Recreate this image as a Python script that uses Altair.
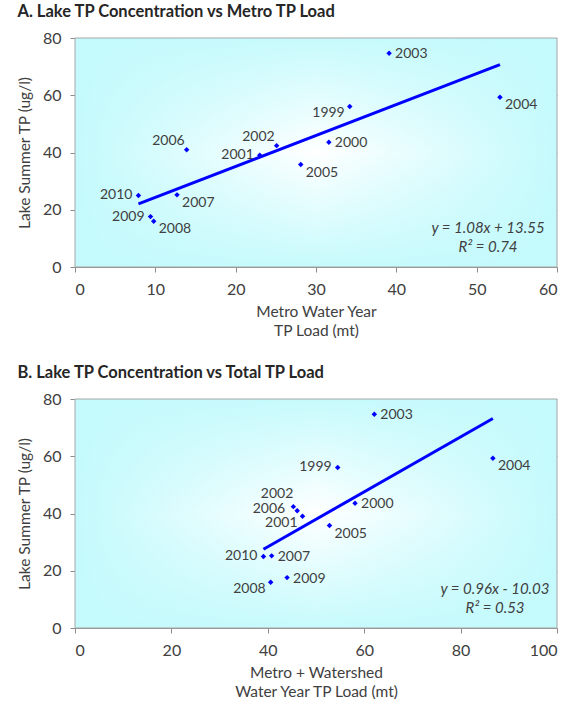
import altair as alt
import pandas as pd

# ---------------- data ----------------
years = [1999, 2000, 2001, 2002, 2003, 2004, 2005, 2006, 2007, 2008, 2009, 2010]
lake_tp = [56.1, 43.6, 39.0, 42.4, 74.7, 59.3, 35.8, 41.0, 25.2, 16.0, 17.6, 25.0]
metro_load = [34.2, 31.6, 23.0, 25.1, 39.1, 52.9, 28.1, 13.9, 12.7, 9.8, 9.4, 7.9]
total_load = [54.5, 58.1, 47.2, 45.3, 62.1, 86.7, 52.8, 46.1, 40.8, 40.6, 44.0, 39.1]

fit_a = {"slope": 1.08, "intercept": 13.55, "r2": 0.74}
fit_b = {"slope": 0.96, "intercept": -10.03, "r2": 0.53}

x_ticks_a = [0, 10, 20, 30, 40, 50, 60]
x_ticks_b = [0, 20, 40, 60, 80, 100]
y_ticks = [0, 20, 40, 60, 80]

title_a = "A.  Lake TP Concentration vs Metro TP Load"
title_b = "B.  Lake TP Concentration vs Total TP Load"
xtitle_a = ["Metro Water Year", "TP Load (mt)"]
xtitle_b = ["Metro + Watershed", "Water Year TP Load (mt)"]
ytitle = "Lake Summer TP (ug/l)"

# label placement (style) per year
place_a = {1999: "bl", 2000: "r", 2001: "l", 2002: "al", 2003: "r", 2004: "br",
           2005: "br", 2006: "al", 2007: "br", 2008: "br", 2009: "l", 2010: "l"}
place_b = {1999: "l", 2000: "r", 2001: "bl", 2002: "au", 2003: "r", 2004: "br",
           2005: "br", 2006: "ll", 2007: "r", 2008: "bl", 2009: "r", 2010: "l"}
offsets = {
    "r": ("left", 6, 1),
    "l": ("right", -6, 0),
    "br": ("left", 5, 8),
    "bl": ("right", -5, 7),
    "al": ("right", -2, -9),
    "au": ("right", 0, -13),
    "ll": ("right", -12, -2),
}

W, H = 482, 229
FONT = "Lato"
TXT = "#404040"
BLUE = "#0000ff"
CYAN = "#c4fafc"
GRAYLINE = "#8c8c8c"


def eq_text(fit):
    sign = "+" if fit["intercept"] >= 0 else "-"
    return [f"y = {fit['slope']:.2f}x {sign} {abs(fit['intercept']):.2f}",
            f"R² = {fit['r2']:.2f}"]


def panel(xvals, xmax, xticks, fit, place, title, xtitle, eq_x):
    df = pd.DataFrame({"year": years, "x": xvals, "y": lake_tp})
    xmin_d, xmax_d = min(xvals), max(xvals)
    tdf = pd.DataFrame({"x": [xmin_d, xmax_d],
                        "y": [fit["slope"] * xmin_d + fit["intercept"],
                              fit["slope"] * xmax_d + fit["intercept"]]})

    xs = alt.Scale(domain=[0, xmax], nice=False, zero=True)
    ys = alt.Scale(domain=[0, 80], nice=False)
    xax = alt.Axis(values=xticks, title=xtitle, grid=False, format="d")
    yax = alt.Axis(values=y_ticks, title=ytitle, grid=True, format="d")

    one = alt.Data(values=[{"a": 1}])
    bg_h = alt.Chart(one).mark_rect(
        fill=alt.Gradient(gradient="linear", x1=0, y1=0, x2=1, y2=0,
                          stops=[alt.GradientStop(color=CYAN, offset=0),
                                 alt.GradientStop(color="#ffffff", offset=0.5),
                                 alt.GradientStop(color=CYAN, offset=1)])
    ).encode(x=alt.value(0), x2=alt.value(W), y=alt.value(0), y2=alt.value(H))
    bg_v = alt.Chart(one).mark_rect(
        fill=alt.Gradient(gradient="linear", x1=0, y1=0, x2=0, y2=1,
                          stops=[alt.GradientStop(color="rgba(196,250,252,0.95)", offset=0),
                                 alt.GradientStop(color="rgba(196,250,252,0)", offset=0.5),
                                 alt.GradientStop(color="rgba(196,250,252,0.95)", offset=1)])
    ).encode(x=alt.value(0), x2=alt.value(W), y=alt.value(0), y2=alt.value(H))

    border = alt.Chart(one).mark_rect(fillOpacity=0, stroke="#a6a6a6", strokeWidth=1).encode(
        x=alt.value(0), x2=alt.value(W), y=alt.value(0), y2=alt.value(H))

    base = alt.Chart(df)
    pts = base.mark_point(shape="diamond", filled=True, size=30, color=BLUE, opacity=1).encode(
        x=alt.X("x:Q", scale=xs, axis=xax),
        y=alt.Y("y:Q", scale=ys, axis=yax),
    )
    trend = alt.Chart(tdf).mark_line(color=BLUE, strokeWidth=3).encode(
        x=alt.X("x:Q", scale=xs), y=alt.Y("y:Q", scale=ys))

    layers = [bg_h, bg_v, border, trend, pts]
    for code, (align, dx, dy) in offsets.items():
        yrs = [yr for yr, c in place.items() if c == code]
        if not yrs:
            continue
        layers.append(
            base.mark_text(align=align, baseline="middle", dx=dx, dy=dy,
                           font=FONT, fontSize=14, color=TXT)
            .encode(x=alt.X("x:Q", scale=xs), y=alt.Y("y:Q", scale=ys),
                    text=alt.Text("year:N"))
            .transform_filter(alt.FieldOneOfPredicate(field="year", oneOf=yrs))
        )
    lines = eq_text(fit)
    for i, ln in enumerate(lines):
        layers.append(
            alt.Chart(one).mark_text(align="center", baseline="middle", font=FONT,
                                     fontSize=15, fontStyle="italic", color=TXT, text=ln)
            .encode(x=alt.value(eq_x), y=alt.value(190 + 19 * i))
        )

    return alt.layer(*layers).properties(
        width=W, height=H,
        title=alt.TitleParams(title, anchor="start", frame="bounds", font=FONT,
                              fontSize=16.5, fontWeight="bold", color="#262626", offset=10),
    )


top = panel(metro_load, 60, x_ticks_a, fit_a, place_a, title_a, xtitle_a, 413)
bottom = panel(total_load, 100, x_ticks_b, fit_b, place_b, title_b, xtitle_b, 420)

chart = alt.vconcat(top, bottom, spacing=25).properties(
    padding={"left": 17, "top": 3, "right": 0, "bottom": 0},
    background="white",
).configure_view(stroke=None).configure_axis(
    zindex=1,
    domainColor=GRAYLINE, tickColor=GRAYLINE, tickSize=5,
    labelFont=FONT, labelFontSize=16, labelColor=TXT,
    titleFont=FONT, titleFontSize=15.5, titleFontWeight="normal", titleColor=TXT,
    gridColor="#a6a6a6", gridDash=[3, 3], gridWidth=1,
).configure_axisX(labelPadding=9, titlePadding=7, titleLineHeight=19
).configure_axisY(labelPadding=9, titlePadding=10)

chart.save("out.html", embed_options={"renderer": "svg", "actions": False})
